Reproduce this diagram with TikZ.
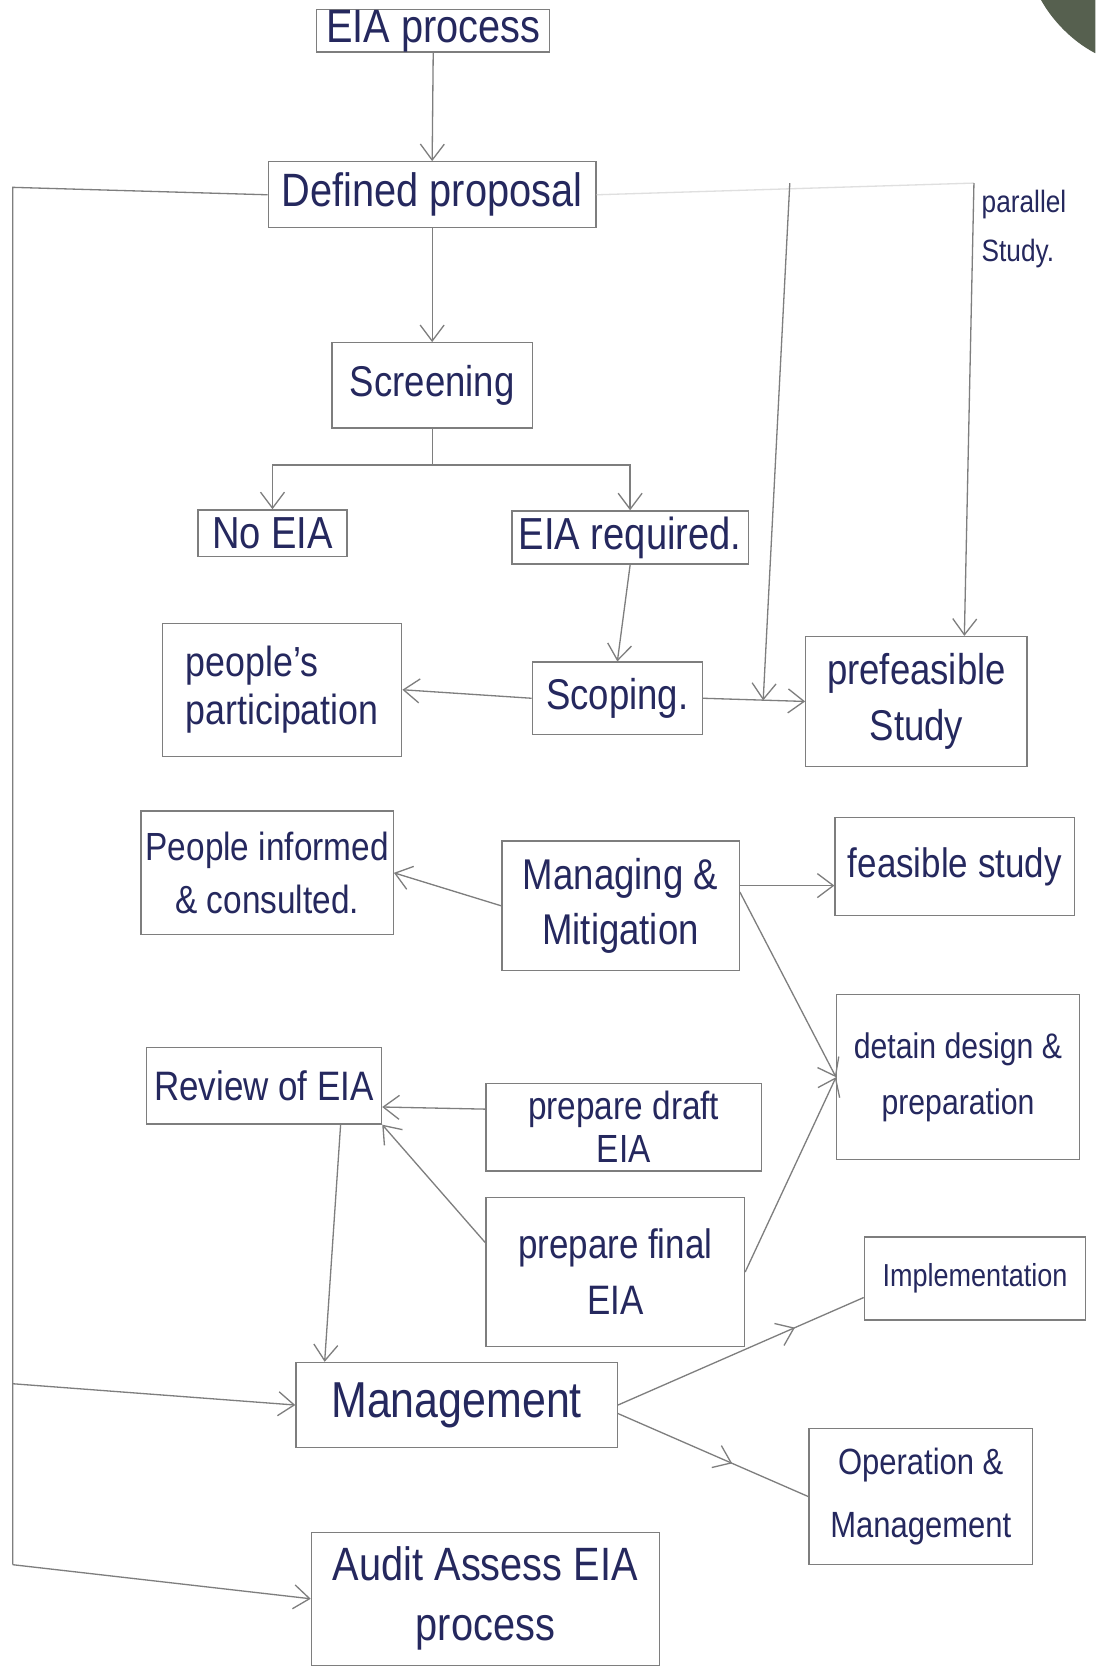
\documentclass[tikz,border=0pt]{standalone}
\usepackage{fontspec}
\setmainfont{Liberation Sans}[FakeStretch=0.85]
\usetikzlibrary{arrows.meta,calc,decorations.markings}
\definecolor{ink}{HTML}{25285E}
\definecolor{pen}{HTML}{7E7E7E}
\definecolor{cornercol}{HTML}{56604F}
\begin{document}
\begin{tikzpicture}[x=0.02cm,y=-0.02cm,
  box/.style={draw=pen,line width=0.7pt,text=ink,align=center,inner sep=0pt},
  conn/.style={draw=pen,line width=0.7pt},
  arr/.style={conn,-{Straight Barb[length=3mm,width=4.5mm]}},
  midarr/.style={conn,postaction={decorate},decoration={markings,mark=at position #1 with {\arrow{Straight Barb[length=3mm,width=4.5mm]}}}}
]
\useasboundingbox[fill=white] (0,0) rectangle (1029,1568);
\fill[cornercol] (978,0) -- (1029,0) -- (1029,50) .. controls (1006,38) and (988,18) .. cycle;

% nodes
\node[box,minimum width=4.38cm,minimum height=0.8cm,font=\fontsize{25}{30}\selectfont] (eia) at (407,29) {EIA process};
\node[box,minimum width=6.16cm,minimum height=1.24cm,font=\fontsize{25}{30}\selectfont] (def) at (406,183) {Defined proposal};
\node[box,minimum width=3.76cm,minimum height=1.6cm,font=\fontsize{23}{28}\selectfont] (scr) at (406,362) {Screening};
\node[box,minimum width=2.8cm,minimum height=0.88cm,font=\fontsize{24}{28}\selectfont] (noeia) at (256,501) {No EIA};
\node[box,minimum width=4.44cm,minimum height=1.0cm,font=\fontsize{24}{28}\selectfont] (eiareq) at (592,505) {EIA required.};
\node[box,minimum width=4.5cm,minimum height=2.5cm,align=left,font=\fontsize{22.5}{26}\selectfont] (ppl) at (265,648) {people's\\participation};
\node[box,minimum width=3.2cm,minimum height=1.36cm,font=\fontsize{23}{28}\selectfont] (scope) at (580,656) {Scoping.};
\node[box,minimum width=4.16cm,minimum height=2.44cm,font=\fontsize{23}{30}\selectfont] (pref) at (861,659) {prefeasible\\Study};
\node[box,minimum width=4.74cm,minimum height=2.32cm,font=\fontsize{21}{28}\selectfont] (inf) at (251,820) {People informed\\\& consulted.};
\node[box,minimum width=4.46cm,minimum height=2.44cm,font=\fontsize{23}{29}\selectfont] (mng) at (583,851) {Managing \&\\Mitigation};
\node[box,minimum width=4.5cm,minimum height=1.84cm,font=\fontsize{22}{28}\selectfont] (feas) at (897,814) {feasible study};
\node[box,minimum width=4.42cm,minimum height=1.44cm,font=\fontsize{22}{28}\selectfont] (rev) at (248,1020) {Review of EIA};
\node[box,minimum width=5.18cm,minimum height=1.64cm,font=\fontsize{21}{23}\selectfont] (draft) at (586,1059) {prepare draft\\EIA};
\node[box,minimum width=4.86cm,minimum height=2.8cm,font=\fontsize{22}{30}\selectfont] (final) at (578,1195) {prepare final\\EIA};
\node[box,minimum width=4.56cm,minimum height=3.1cm,font=\fontsize{19}{30}\selectfont] (det) at (900,1012) {detain design \&\\preparation};
\node[box,minimum width=6.04cm,minimum height=1.6cm,font=\fontsize{27}{30}\selectfont] (mgt) at (429,1320) {Management};
\node[box,minimum width=4.16cm,minimum height=1.56cm,font=\fontsize{17}{22}\selectfont] (impl) at (916,1201) {Implementation};
\node[box,minimum width=4.2cm,minimum height=2.56cm,font=\fontsize{19.5}{34}\selectfont] (op) at (865,1406) {Operation \&\\Management};
\node[box,minimum width=6.54cm,minimum height=2.5cm,font=\fontsize{25}{32}\selectfont] (audit) at (456,1502) {Audit Assess EIA\\process};
\node[text=ink,align=left,inner sep=0pt,font=\fontsize{16.5}{26}\selectfont] (par) at (962,215) {parallel\\Study.};

% coordinates
\coordinate (fork) at (406,437);
\coordinate (p1top) at (742,172);
\coordinate (p1bot) at (717,658);
\coordinate (p2top) at (915,172);
\coordinate (lc1) at (12,176);
\coordinate (lc2) at (12,1300);
\coordinate (lc3) at (12,1470);

% connectors
\draw[arr] (eia.south) -- (def.north);
\draw[arr] (def.south) -- (scr.north);
\draw[conn] (scr.south) -- (fork);
\draw[arr] (fork) -| (noeia.north);
\draw[arr] (fork) -| (eiareq.north);
\draw[arr] (eiareq.south) -- (scope.north);
\draw[arr] (scope.west) -- (ppl.east);
\draw[arr] (scope.east) -- (pref.west);
\draw[conn,draw=pen!25] (def.east) -- (p2top);
\draw[arr] (p1top) -- (p1bot);
\draw[arr] (p2top) -- ($(pref.north)+(45,0)$);
\draw[arr] (mng.west) -- (inf.east);
\draw[arr] ($(mng.east)+(0,-19)$) -- ($(feas.west)+(0,18)$);
\draw[arr] ($(mng.east)+(0,-13)$) -- (det.west);
\draw[arr] (final.east) -- (det.west);
\draw[arr] ($(draft.west)+(0,-17)$) -- ($(rev.east)+(0,20)$);
\draw[arr] ($(final.north west)+(0,43)$) -- (rev.south east);
\draw[arr] ($(rev.south)+(72,0)$) -- ($(mgt.north)+(-124,0)$);
\draw[conn] (def.west) -- (lc1) -- (lc3);
\draw[arr] (lc2) -- (mgt.west);
\draw[arr] (lc3) -- (audit.west);
\draw[midarr=0.72] (mgt.east) -- ($(impl.west)+(0,18)$);
\draw[midarr=0.6] ($(mgt.east)+(0,8)$) -- (op.west);
\end{tikzpicture}
\end{document}
